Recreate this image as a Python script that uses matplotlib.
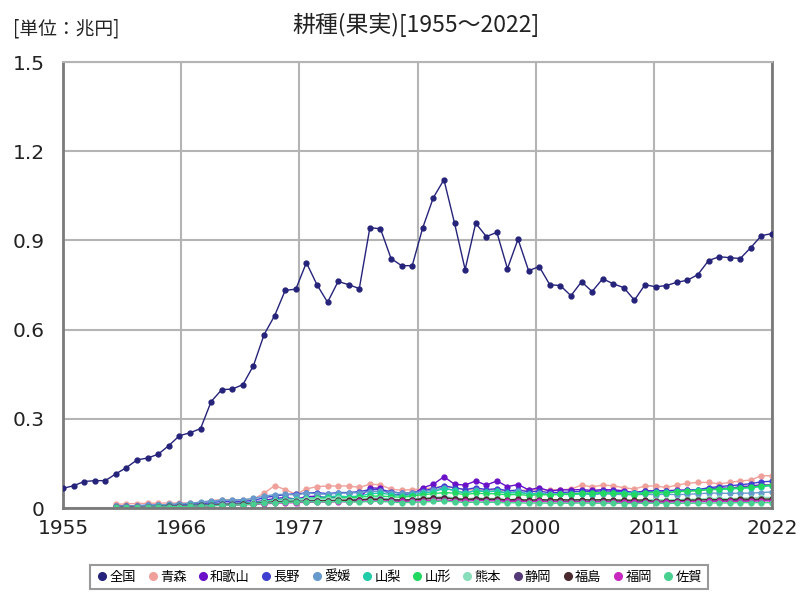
import matplotlib
matplotlib.use("Agg")
import matplotlib.pyplot as plt
import numpy as np

plt.rcParams['font.family'] = ['Noto Sans CJK JP', 'DejaVu Sans']

years_all = list(range(1955, 2023))
years_pref = list(range(1960, 2023))

zenkoku = [0.066, 0.075, 0.089, 0.092, 0.092, 0.115, 0.136, 0.162, 0.168, 0.181,
           0.210, 0.243, 0.253, 0.267, 0.358, 0.398, 0.400, 0.415, 0.479, 0.583,
           0.647, 0.732, 0.736, 0.825, 0.751, 0.692, 0.762, 0.751, 0.738, 0.943,
           0.939, 0.839, 0.815, 0.815, 0.943, 1.044, 1.104, 0.958, 0.802, 0.958,
           0.913, 0.927, 0.805, 0.904, 0.798, 0.812, 0.751, 0.748, 0.714, 0.761,
           0.728, 0.771, 0.754, 0.741, 0.699, 0.751, 0.744, 0.748, 0.759, 0.766,
           0.785, 0.832, 0.845, 0.842, 0.839, 0.876, 0.916, 0.923]

aomori = [.012, .014, .015, .016, .016, .017, .017, .017, .016, .025,
          .028, .028, .028, .030, .050, .075, .062, .046, .064, .072,
          .074, .074, .074, .069, .080, .078, .063, .060, .062, .064,
          .068, .072, .068, .062, .061, .061, .062, .058, .058, .061,
          .061, .061, .062, .063, .077, .071, .077, .075, .068, .064,
          .074, .074, .069, .077, .083, .086, .086, .081, .086, .091,
          .094, .109, .108]
wakayama = [.005, .006, .007, .008, .008, .009, .010, .010, .011, .013,
            .015, .016, .017, .020, .025, .032, .035, .030, .038, .040,
            .034, .036, .035, .034, .068, .066, .045, .045, .046, .068,
            .080, .105, .080, .077, .091, .077, .091, .072, .079, .061,
            .068, .057, .061, .061, .062, .059, .062, .061, .058, .051,
            .058, .058, .058, .060, .060, .061, .064, .068, .066, .072,
            .074, .078, .077]
nagano = [.006, .007, .008, .009, .010, .011, .012, .013, .014, .018,
          .022, .022, .023, .025, .035, .040, .045, .048, .050, .052,
          .048, .052, .052, .055, .062, .062, .055, .050, .052, .058,
          .065, .075, .068, .062, .068, .062, .065, .058, .060, .055,
          .056, .052, .052, .054, .056, .055, .058, .056, .054, .052,
          .056, .057, .056, .058, .060, .062, .068, .072, .075, .078,
          .082, .088, .090]
ehime = [.006, .007, .008, .009, .010, .012, .014, .016, .020, .024,
         .026, .027, .028, .032, .040, .045, .046, .044, .050, .048,
         .046, .050, .050, .052, .055, .056, .052, .050, .052, .055,
         .060, .068, .058, .050, .060, .055, .058, .050, .058, .046,
         .050, .046, .048, .046, .048, .045, .048, .046, .045, .044,
         .046, .045, .046, .045, .046, .048, .050, .050, .049, .050,
         .050, .052, .054]
yamanashi = [.003, .004, .004, .005, .006, .007, .008, .009, .010, .012,
             .014, .015, .016, .018, .022, .028, .030, .030, .033, .035,
             .038, .040, .038, .040, .048, .050, .045, .042, .045, .050,
             .055, .065, .060, .050, .058, .055, .056, .050, .052, .048,
             .048, .045, .046, .045, .048, .047, .050, .050, .052, .050,
             .052, .054, .053, .056, .058, .060, .062, .062, .064, .066,
             .068, .072, .075]
yamagata = [.003, .003, .004, .004, .005, .006, .007, .008, .009, .010,
            .012, .013, .014, .016, .020, .024, .026, .026, .030, .032,
            .032, .034, .035, .036, .040, .040, .038, .036, .040, .045,
            .048, .052, .050, .045, .050, .048, .048, .044, .046, .042,
            .045, .044, .046, .048, .050, .050, .052, .050, .048, .045,
            .050, .052, .050, .055, .056, .058, .062, .064, .066, .068,
            .070, .075, .077]
kumamoto = [.002, .002, .003, .003, .004, .005, .006, .007, .008, .010,
            .012, .013, .014, .016, .020, .024, .026, .028, .030, .030,
            .030, .032, .031, .030, .034, .034, .030, .028, .030, .033,
            .036, .038, .034, .030, .034, .032, .032, .028, .030, .026,
            .028, .026, .027, .026, .028, .027, .028, .027, .026, .025,
            .028, .028, .027, .028, .029, .030, .032, .032, .031, .033,
            .034, .036, .035]
shizuoka = [.003, .004, .004, .005, .005, .006, .007, .008, .009, .010,
            .012, .013, .013, .015, .018, .020, .022, .022, .024, .024,
            .024, .025, .025, .026, .030, .030, .028, .026, .027, .030,
            .032, .034, .030, .026, .030, .028, .028, .024, .026, .022,
            .024, .022, .023, .022, .023, .022, .023, .022, .021, .020,
            .022, .021, .021, .022, .022, .022, .023, .024, .024, .025,
            .025, .026, .026]
fukushima = [.002, .002, .003, .003, .004, .004, .005, .006, .007, .008,
             .010, .011, .012, .014, .017, .020, .021, .020, .022, .024,
             .024, .026, .026, .027, .029, .028, .027, .026, .028, .031,
             .033, .034, .031, .029, .031, .030, .030, .027, .029, .026,
             .028, .027, .028, .027, .028, .027, .028, .027, .026, .026,
             .027, .022, .024, .025, .026, .027, .028, .028, .028, .030,
             .029, .030, .030]
fukuoka = [.002, .002, .003, .003, .004, .004, .005, .006, .007, .008,
           .009, .010, .011, .012, .014, .016, .017, .018, .019, .020,
           .020, .021, .021, .022, .024, .024, .023, .022, .023, .025,
           .026, .027, .025, .023, .025, .024, .024, .022, .023, .021,
           .022, .021, .021, .020, .021, .020, .021, .020, .020, .019,
           .020, .020, .020, .021, .021, .021, .022, .022, .022, .023,
           .023, .024, .024]
saga = [.002, .002, .002, .003, .003, .004, .005, .006, .007, .008,
        .009, .010, .011, .013, .016, .018, .019, .020, .021, .021,
        .021, .022, .021, .020, .022, .022, .020, .018, .019, .020,
        .022, .023, .021, .018, .020, .019, .019, .017, .018, .016,
        .017, .016, .016, .016, .017, .016, .016, .016, .015, .015,
        .016, .016, .015, .016, .016, .016, .017, .017, .017, .018,
        .018, .018, .018]

pref_names = ['青森', '和歌山', '長野', '愛媛', '山梨', '山形', '熊本', '静岡', '福島', '福岡', '佐賀']
pref_values = [aomori, wakayama, nagano, ehime, yamanashi, yamagata, kumamoto,
               shizuoka, fukushima, fukuoka, saga]
pref_colors = ['#f0a09a', '#6a10c8', '#4040d0', '#6699cc', '#20cca8', '#22d860',
               '#88ddbb', '#553a78', '#4a2a2e', '#c828c0', '#48d090']

xtick_labels = ['1955', '1966', '1977', '1989', '2000', '2011', '2022']
yticks = [0, 0.3, 0.6, 0.9, 1.2, 1.5]
ytick_labels = ['0', '0.3', '0.6', '0.9', '1.2', '1.5']

fig = plt.figure(figsize=(8, 6), dpi=100)
ax = fig.add_axes([63/800, 1 - 508/600, (772 - 63)/800, (508 - 62)/600])

for name, vals, col in zip(pref_names, pref_values, pref_colors):
    ax.plot(years_pref, vals, color=col, lw=1.0, marker='o', ms=3.5,
            label=name, zorder=2)
ax.plot(years_all, zenkoku, color='#25237a', lw=1.0, marker='o', ms=3.5,
        label='全国', zorder=3)

ax.set_xlim(1955, 2022)
ax.set_ylim(0, 1.5)
ax.set_xticks(np.linspace(1955, 2022, 7))
ax.set_xticklabels(xtick_labels, family=['DejaVu Sans'])
ax.set_yticks(yticks)
ax.set_yticklabels(ytick_labels, family=['DejaVu Sans'])
ax.tick_params(axis='both', length=0, labelsize=14.5, colors='#222222')
ax.tick_params(axis='x', pad=8)
ax.tick_params(axis='y', pad=13)
ax.grid(True, color='#b4b4b4', lw=1.5)
ax.set_axisbelow(True)
for side in ['left', 'bottom', 'right']:
    ax.spines[side].set_color('#7a7a7a')
    ax.spines[side].set_linewidth(2)
ax.spines['top'].set_color('#b4b4b4')
ax.spines['top'].set_linewidth(1.5)

fig.text(416/800, 1 - 25/600, '耕種(果実)[1955～2022]', ha='center', va='center',
         fontsize=16.5, color='#222222')
fig.text(13/800, 1 - 29/600, '[単位：兆円]', ha='left', va='center',
         fontsize=13.5, color='#222222')

handles, labels = ax.get_legend_handles_labels()
order = [len(handles) - 1] + list(range(len(handles) - 1))
leg_handles = [plt.Line2D([], [], ls='none', marker='o', ms=5.5,
                          color=handles[i].get_color()) for i in order]
leg = fig.legend(leg_handles, [labels[i] for i in order], loc='center',
                 bbox_to_anchor=(399/800, 1 - 577/600), ncol=12, fontsize=9.5,
                 frameon=True, fancybox=False, edgecolor='#808080',
                 handletextpad=0.05, columnspacing=0.75, handlelength=1.0,
                 borderpad=0.45)
leg.get_frame().set_linewidth(1.5)

fig.savefig('out.png', dpi=100)
